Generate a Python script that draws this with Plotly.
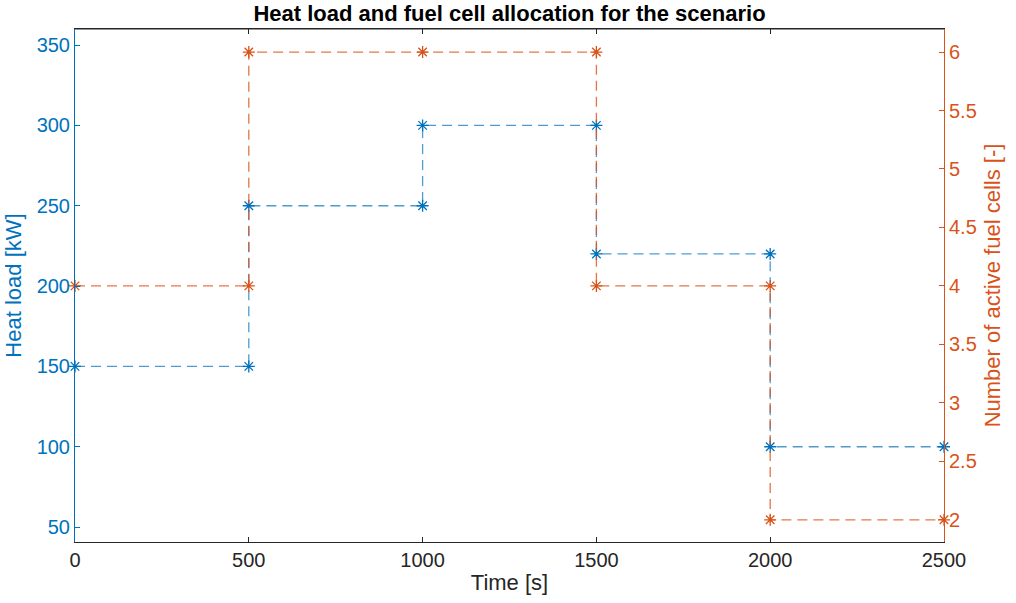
import plotly.graph_objects as go

time_s = [0, 500, 1000, 1500, 2000, 2500]
heat_load_kw = [150, 250, 300, 220, 100, 100]
fuel_cells = [4, 6, 6, 4, 2, 2]
x_ticks = [0, 500, 1000, 1500, 2000, 2500]
left_ticks = [50, 100, 150, 200, 250, 300, 350]
right_ticks = [2, 2.5, 3, 3.5, 4, 4.5, 5, 5.5, 6]
right_tick_text = ["2", "2.5", "3", "3.5", "4", "4.5", "5", "5.5", "6"]

BLUE = "#0072BD"
ORANGE = "#D95319"


def stairs(x, y):
    xs, ys = [x[0]], [y[0]]
    for i in range(1, len(x)):
        xs.append(x[i]); ys.append(y[i - 1])
        if y[i] != y[i - 1]:
            xs.append(x[i]); ys.append(y[i])
    return xs, ys


hx, hy = stairs(time_s, heat_load_kw)
fx, fy = stairs(time_s, fuel_cells)

fig = go.Figure()
fig.add_trace(go.Scatter(
    x=hx, y=hy, mode="lines+markers", yaxis="y",
    line=dict(color="rgba(0,114,189,0.7)", width=1.3, dash="10px,6px"),
    marker=dict(symbol="asterisk-open", size=10, color=BLUE, line=dict(color=BLUE, width=1.3)),
    showlegend=False, cliponaxis=False,
))
fig.add_trace(go.Scatter(
    x=fx, y=fy, mode="lines+markers", yaxis="y2",
    line=dict(color="rgba(217,83,25,0.8)", width=1.3, dash="10px,6px"),
    marker=dict(symbol="asterisk-open", size=10, color=ORANGE, line=dict(color=ORANGE, width=1.3)),
    showlegend=False, cliponaxis=False,
))

font = "Liberation Sans, Arial, Helvetica, sans-serif"
fig.update_layout(
    width=1016, height=603,
    margin=dict(l=75, r=72, t=29, b=61),
    paper_bgcolor="white", plot_bgcolor="white",
    font=dict(family=font, size=20, color="#262626"),
    title=dict(text="<b>Heat load and fuel cell allocation for the scenario</b>",
               x=0.5, xanchor="center", xref="paper", yref="container",
               y=1 - 13 / 603, yanchor="middle",
               font=dict(size=22, color="#000000")),
    xaxis=dict(
        range=[0, 2500], tickvals=x_ticks, ticks="inside", ticklen=5,
        showline=True, linecolor="#262626", linewidth=1, mirror="ticks",
        tickcolor="#262626", showgrid=False, zeroline=False,
        title=dict(text="Time [s]", standoff=4, font=dict(size=22, color="#262626")),
        tickfont=dict(size=20, color="#262626"),
    ),
    yaxis=dict(
        range=[40.7, 360], tickvals=left_ticks, ticks="inside", ticklen=5,
        showline=True, linecolor=BLUE, linewidth=1, tickcolor=BLUE,
        showgrid=False, zeroline=False,
        title=dict(text="Heat load [kW]", standoff=8, font=dict(size=22, color=BLUE)),
        tickfont=dict(size=20, color=BLUE),
    ),
    yaxis2=dict(
        range=[1.81, 6.197], tickvals=right_ticks, ticktext=right_tick_text,
        overlaying="y", side="right", ticks="inside", ticklen=5,
        showline=True, linecolor=ORANGE, linewidth=1, tickcolor=ORANGE,
        showgrid=False, zeroline=False,
        title=dict(text="Number of active fuel cells [-]", standoff=8, font=dict(size=22, color=ORANGE)),
        tickfont=dict(size=20, color=ORANGE),
    ),
)
# top border line (box)
fig.add_shape(type="line", xref="paper", yref="paper", x0=0, x1=1, y0=1, y1=1,
              line=dict(color="#262626", width=1))

fig.write_html("out.html")
